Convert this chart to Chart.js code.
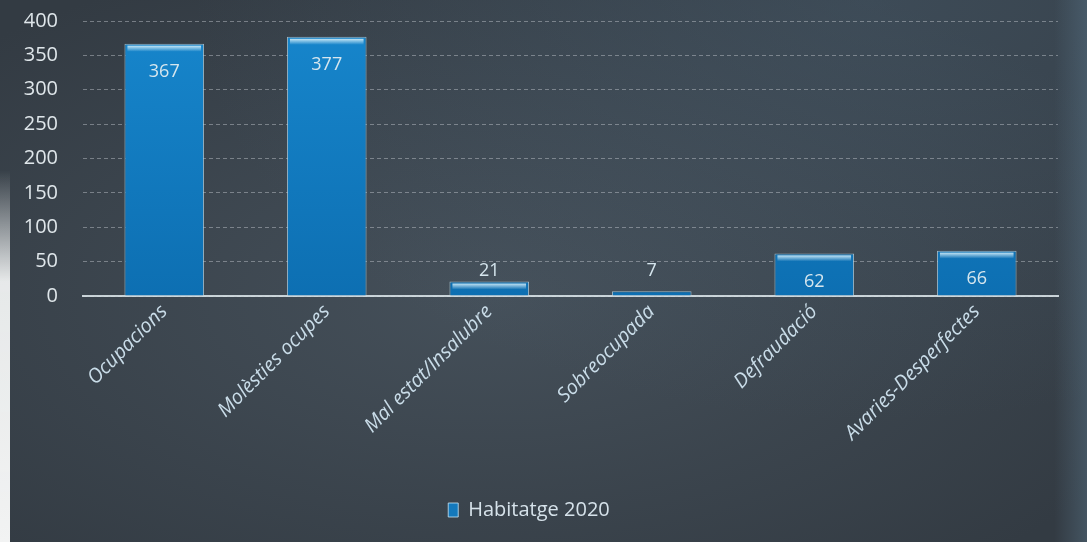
<!DOCTYPE html>
<html>
<head>
<meta charset="utf-8">
<script src="https://cdn.jsdelivr.net/npm/chart.js@4"></script>
<style>
  html, body { margin: 0; padding: 0; }
  body {
    width: 1087px; height: 542px; overflow: hidden;
    background:
      linear-gradient(90deg, rgba(0,0,0,0) 97%, rgba(85,110,128,0.5) 100%),
      radial-gradient(ellipse at 80% 0%, rgba(80,105,125,0.35), rgba(80,105,125,0) 55%),
      radial-gradient(ellipse at 45% 55%, #45505a, #333b43 85%);
  }
  #wrap { position: relative; width: 1087px; height: 542px; }
  #edge {
    position: absolute; left: 0; top: 170px; width: 10px; height: 372px;
    background: linear-gradient(180deg, rgba(240,242,242,0) 0%, rgba(240,242,242,0.95) 30%, #f2f3f3 100%);
  }
</style>
</head>
<body>
<div id="wrap"><canvas id="chart"></canvas><div id="edge"></div></div>
<script>
const categories = ['Ocupacions', 'Molèsties ocupes', 'Mal estat/Insalubre', 'Sobreocupada', 'Defraudació', 'Avaries-Desperfectes'];
const habitatge2020 = [367, 377, 21, 7, 62, 66];
const yTicks = [0, 50, 100, 150, 200, 250, 300, 350, 400];

const fontName = "'Open Sans', 'Noto Sans', sans-serif";
const barBlue = '#1479bc';

// value labels + the light band at the top of each bar
const barExtras = {
    id: 'barExtras',
    afterDatasetsDraw(chart) {
        const ctx = chart.ctx;
        const meta = chart.getDatasetMeta(0);
        ctx.save();
        meta.data.forEach((bar, i) => {
            const h = bar.base - bar.y;
            const half = bar.width / 2;
            if (h > 8) {
                const g = ctx.createLinearGradient(0, bar.y + 2, 0, bar.y + 8);
                g.addColorStop(0, 'rgba(215,240,250,0.9)');
                g.addColorStop(1, 'rgba(215,240,250,0)');
                ctx.fillStyle = g;
                ctx.fillRect(bar.x - half + 3, bar.y + 2, bar.width - 6, 6);
            }
            ctx.fillStyle = '#d6e6ee';
            ctx.font = '18px ' + fontName;
            ctx.textAlign = 'center';
            ctx.textBaseline = 'middle';
            const ty = h > 30 ? bar.y + 28 : bar.base - 25;
            ctx.fillText(String(habitatge2020[i]), bar.x, ty);
        });
        ctx.restore();
    }
};

const canvas = document.getElementById('chart');

new Chart(canvas, {
    type: 'bar',
    data: {
        labels: categories,
        datasets: [{
            label: 'Habitatge 2020',
            data: habitatge2020,
            backgroundColor: (c) => {
                const area = c.chart.chartArea;
                if (!area) return barBlue;
                const g = c.chart.ctx.createLinearGradient(0, area.top, 0, area.bottom);
                g.addColorStop(0, '#1786cc');
                g.addColorStop(1, '#0d6fb2');
                return g;
            },
            borderColor: 'rgba(190,220,235,0.75)',
            borderWidth: 1,
            categoryPercentage: 1,
            barPercentage: 0.49
        }]
    },
    options: {
        responsive: true,
        maintainAspectRatio: false,
        animation: false,
        layout: { padding: { top: 21, right: 29, left: 0, bottom: 12 } },
        plugins: {
            legend: {
                position: 'bottom',
                labels: {
                    color: '#d6e2ea',
                    font: { family: fontName, size: 20 },
                    boxWidth: 10,
                    boxHeight: 14,
                    padding: 10,
                    generateLabels: (chart) => [{
                        text: chart.data.datasets[0].label,
                        fillStyle: barBlue,
                        strokeStyle: 'rgba(200,230,245,0.8)',
                        lineWidth: 1,
                        fontColor: '#d6e2ea',
                        datasetIndex: 0
                    }]
                }
            },
            tooltip: { enabled: false }
        },
        scales: {
            x: {
                grid: { display: false, drawTicks: false },
                border: { display: true, color: 'rgba(215,225,230,0.9)', width: 2 },
                ticks: {
                    color: '#c9dce8',
                    font: { family: fontName, size: 20, style: 'italic' },
                    minRotation: 45,
                    maxRotation: 45,
                    padding: 4
                },
                afterFit: (s) => { s.height = 194; s.paddingTop = 0; }
            },
            y: {
                min: 0,
                max: 400,
                afterBuildTicks: (s) => { s.ticks = yTicks.map(v => ({ value: v })); },
                grid: { color: 'rgba(200,205,210,0.45)', drawTicks: false, lineWidth: 1 },
                border: { display: false, dash: [4, 3] },
                ticks: {
                    color: '#dfe6ea',
                    font: { family: fontName, size: 20 },
                    padding: 25
                },
                afterFit: (s) => { s.width = 83; s.paddingTop = 0; s.paddingBottom = 0; }
            }
        }
    },
    plugins: [barExtras]
});
</script>
</body>
</html>
